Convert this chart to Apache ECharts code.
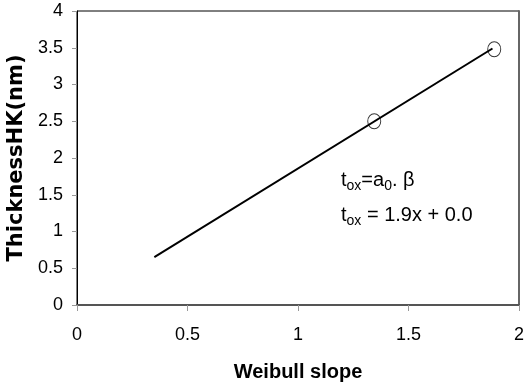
<!DOCTYPE html>
<html>
<head>
<meta charset="utf-8">
<script src="https://cdn.jsdelivr.net/npm/echarts@6/dist/echarts.min.js"></script>
<style>
  html, body { margin: 0; padding: 0; background: #fff; }
  #chart { width: 524px; height: 390px; }
</style>
</head>
<body>
<div id="chart"></div>
<script>
// Measured oxide thickness against Weibull slope
const slopes = [1.345, 1.888];
const thickness = [2.5, 3.48];

// Linear fit drawn across the fitted range
const fitX = [0.35, 1.88];
const fitY = [0.65, 3.49];

// Axis ranges and ticks
const xTicks = [0, 0.5, 1, 1.5, 2];
const yTicks = [0, 0.5, 1, 1.5, 2, 2.5, 3, 3.5, 4];

const tickFont = '"Liberation Sans", Arial, sans-serif';

const chart = echarts.init(document.getElementById('chart'), null, { renderer: 'canvas' });

chart.setOption({
  animation: false,
  backgroundColor: '#ffffff',
  grid: {
    left: 77, right: 5, top: 11, bottom: 85,
    containLabel: false,
    outerBoundsMode: 'none',
    show: true, borderColor: '#000', borderWidth: 1, backgroundColor: '#fff'
  },
  xAxis: [{
    type: 'value',
    min: xTicks[0], max: xTicks[xTicks.length - 1], interval: 0.5,
    name: 'Weibull slope',
    nameLocation: 'middle',
    nameGap: 57,
    nameTextStyle: { fontFamily: '"Liberation Sans", Arial, sans-serif', fontWeight: 'bold', fontSize: 20, color: '#000' },
    axisLine: { show: true, onZero: false, lineStyle: { color: '#555', width: 2 } },
    axisTick: { show: true, inside: false, length: 6, lineStyle: { color: '#999', width: 1 } },
    axisLabel: { margin: 21, fontFamily: tickFont, fontSize: 18, color: '#000',
      formatter: v => String(v) },
    splitLine: { show: false }
  }],
  yAxis: [{
    type: 'value',
    min: yTicks[0], max: yTicks[yTicks.length - 1], interval: 0.5,
    name: 'ThicknessHK(nm)',
    nameLocation: 'middle',
    nameGap: 47,
    nameTextStyle: { fontFamily: '"DejaVu Sans", sans-serif', fontWeight: 'bold', fontSize: 21, color: '#000' },
    axisLine: { show: true, onZero: false, lineStyle: { color: '#000', width: 1 } },
    axisTick: { show: true, inside: false, length: 5, lineStyle: { color: '#999', width: 1 } },
    axisLabel: { margin: 14, fontFamily: tickFont, fontSize: 18, color: '#000',
      formatter: v => String(v) },
    splitLine: { show: false }
  }, {
    type: 'value',
    position: 'right',
    min: yTicks[0], max: yTicks[yTicks.length - 1], interval: 0.5,
    axisLine: { show: true, onZero: false, lineStyle: { color: '#666', width: 2 } },
    axisTick: { show: false },
    axisLabel: { show: false },
    splitLine: { show: false }
  }],
  series: [{
    type: 'line',
    data: fitX.map((x, i) => [x, fitY[i]]),
    showSymbol: false,
    symbol: 'none',
    lineStyle: { color: '#000', width: 2 },
    z: 2
  }, {
    type: 'scatter',
    data: slopes.map((x, i) => [x, thickness[i]]),
    symbol: 'circle',
    symbolSize: [13, 15],
    itemStyle: { color: 'rgba(0,0,0,0)', borderColor: '#000', borderWidth: 1 },
    z: 3
  }],
  graphic: [{
    type: 'text',
    left: 341,
    top: 170,
    style: {
      text: '{m|t}{s|ox}{m|=a}{s|0}{m|. β}',
      rich: {
        m: { fontFamily: tickFont, fontSize: 20, color: '#000', lineHeight: 26 },
        s: { fontFamily: tickFont, fontSize: 14, color: '#000', lineHeight: 24, verticalAlign: 'bottom' }
      }
    }
  }, {
    type: 'text',
    left: 341,
    top: 205,
    style: {
      text: '{m|t}{s|ox}{m| = 1.9x + 0.0}',
      rich: {
        m: { fontFamily: tickFont, fontSize: 20, color: '#000', lineHeight: 26 },
        s: { fontFamily: tickFont, fontSize: 14, color: '#000', lineHeight: 24, verticalAlign: 'bottom' }
      }
    }
  }]
});
</script>
</body>
</html>
